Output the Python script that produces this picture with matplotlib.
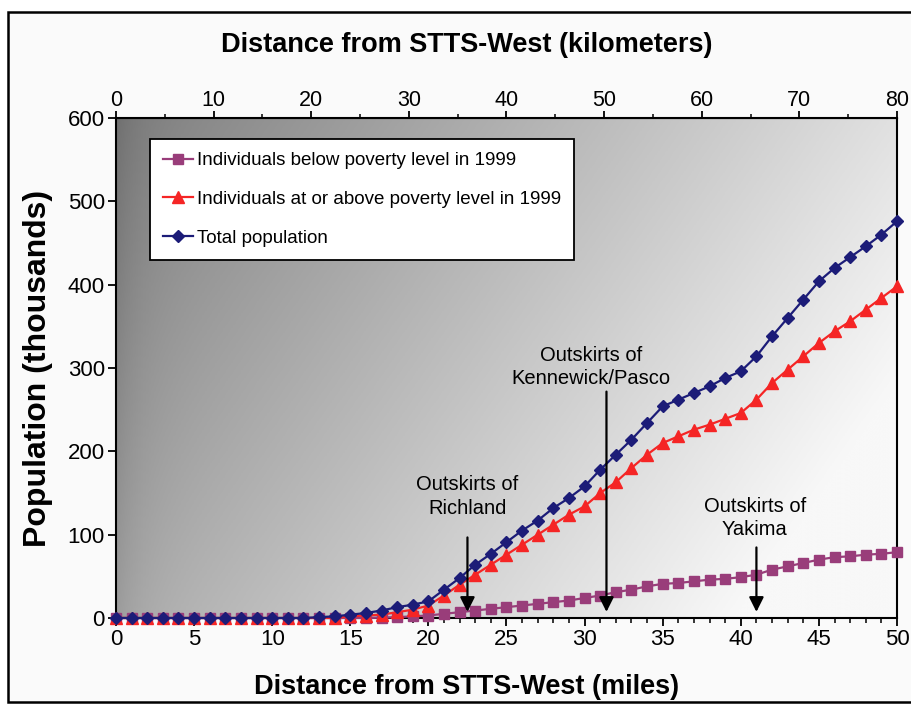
import numpy as np
import matplotlib
matplotlib.use("Agg")
import matplotlib.pyplot as plt
from matplotlib.patches import Rectangle
from matplotlib.ticker import MultipleLocator

plt.rcParams['font.family'] = ['Liberation Sans', 'DejaVu Sans']

miles = list(range(51))

below_poverty = [0] * 17 + [0.5, 1, 2, 3, 5, 7, 9, 11, 13, 15, 17, 19, 21, 24, 27, 31, 34, 38,
                            41, 42, 44, 46, 47, 49, 52, 58, 62, 66, 70, 73, 74, 76, 77, 79]
above_poverty = [0] * 15 + [2, 3, 4, 7, 10, 15, 27, 40, 52, 64, 76, 88, 100, 112, 124, 134,
                            150, 163, 180, 196, 210, 218, 226, 232, 239, 246, 262, 282, 298,
                            314, 330, 344, 356, 370, 384, 398]
total_pop = [0] * 13 + [1, 2, 4, 6, 9, 13, 16, 20, 34, 48, 64, 77, 91, 105, 117, 132, 144, 158,
                        178, 196, 214, 234, 254, 262, 270, 278, 288, 296, 314, 338, 360, 382,
                        404, 420, 433, 446, 460, 476]

series_labels = ['Individuals below poverty level in 1999',
                 'Individuals at or above poverty level in 1999',
                 'Total population']

town_labels = ['Outskirts of\nRichland', 'Outskirts of\nKennewick/Pasco', 'Outskirts of\nYakima']
town_miles = [22.5, 31.4, 41.0]
town_arrow_top = [100, 275, 88]
town_text_x = [22.5, 30.4, 40.9]
town_text_y = [146, 301, 120]

fig = plt.figure(figsize=(9.12, 7.06), dpi=100)
fig.patch.set_facecolor('white')
fig.patches.append(Rectangle((8 / 912, 4 / 706), 1.2, 690 / 706, transform=fig.transFigure,
                             facecolor='#fafafa', edgecolor='black', linewidth=1.8, zorder=-5))

ax = fig.add_axes([116 / 912, 88 / 706, 781 / 912, 500 / 706])

# grey gradient background, dark at top left, white at bottom right
gx, gy = np.meshgrid(np.linspace(0, 1, 300), np.linspace(1, 0, 300))
grad = np.clip(0.50 + 0.38 * gx + 0.17 * (1 - gy) - 0.06 * np.exp(-gx / 0.03), 0, 0.97)
ax.imshow(grad, cmap='gray', vmin=0, vmax=1, extent=[0, 50, 0, 600], aspect='auto',
          zorder=0, interpolation='bicubic')

ax.plot(miles, below_poverty, color='#993d7a', marker='s', markersize=7.5, lw=1.6,
        label=series_labels[0], clip_on=False, zorder=3)
ax.plot(miles, above_poverty, color='#f52525', marker='^', markersize=8.5, lw=1.6,
        label=series_labels[1], clip_on=False, zorder=4)
ax.plot(miles, total_pop, color='#1c1c78', marker='D', markersize=6.5, lw=1.6,
        label=series_labels[2], clip_on=False, zorder=5)

for lab, xm, ytop, xt, yt in zip(town_labels, town_miles, town_arrow_top, town_text_x, town_text_y):
    ax.annotate('', xy=(xm, 4), xytext=(xm, ytop),
                arrowprops=dict(arrowstyle='-|>', color='black', lw=1.6, mutation_scale=22),
                zorder=6)
    ax.text(xt, yt, lab, ha='center', va='center', fontsize=14.5, linespacing=1.3,
            zorder=6)

ax.set_xlim(0, 50)
ax.set_ylim(0, 600)
ax.xaxis.set_major_locator(MultipleLocator(5))
ax.xaxis.set_minor_locator(MultipleLocator(1))
ax.yaxis.set_major_locator(MultipleLocator(100))
ax.tick_params(axis='both', which='major', direction='out', length=6, width=1.3,
               labelsize=16, pad=2)
ax.tick_params(axis='x', which='minor', direction='out', length=3.5, width=1.1)
for s in ax.spines.values():
    s.set_linewidth(1.5)

ax.set_xlabel('Distance from STTS-West (miles)', fontsize=19.5, fontweight='bold')
ax.xaxis.set_label_coords(0.449, -0.112)
ax.set_ylabel('Population (thousands)', fontsize=23, fontweight='bold')
ax.yaxis.set_label_coords(-0.081, 0.5)

top = ax.secondary_xaxis('top', functions=(lambda m: m * 1.6, lambda k: k / 1.6))
top.xaxis.set_major_locator(MultipleLocator(10))
top.xaxis.set_minor_locator(MultipleLocator(5))
top.tick_params(axis='x', which='major', direction='out', length=5, width=1.3,
                labelsize=15.5, pad=0)
top.tick_params(axis='x', which='minor', direction='out', length=3, width=1.1)
fig.text(467 / 912, 1 - 45 / 706, 'Distance from STTS-West (kilometers)', ha='center',
         va='center', fontsize=19.5, fontweight='bold')

leg = ax.legend(loc='upper left', bbox_to_anchor=(0.0435, 0.958), borderaxespad=0,
                fontsize=13.5, frameon=True, fancybox=False, framealpha=1,
                edgecolor='black', handlelength=1.6, handletextpad=0.2,
                labelspacing=1.15, borderpad=0.7)
leg.get_frame().set_linewidth(1.3)

fig.savefig('out.png', dpi=100)
